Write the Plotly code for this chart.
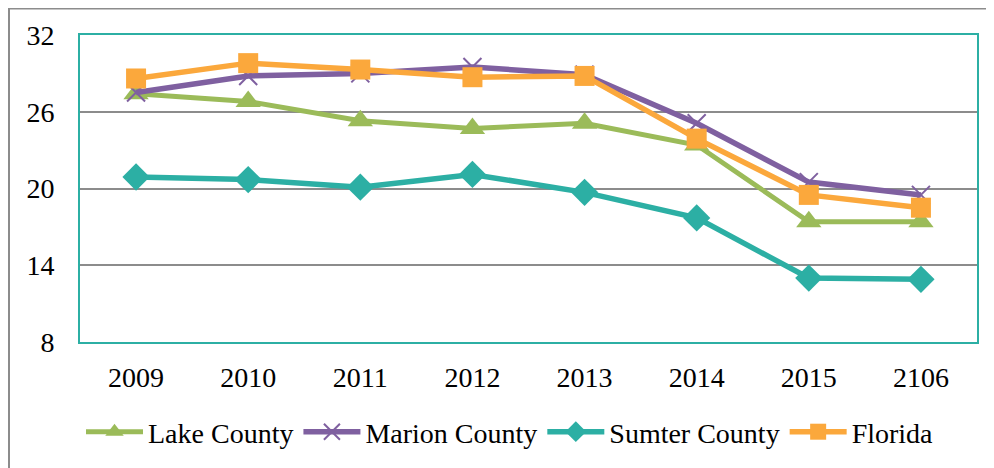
import plotly.graph_objects as go

years = ["2009", "2010", "2011", "2012", "2013", "2014", "2015", "2106"]
lake = [27.4, 26.8, 25.3, 24.7, 25.1, 23.4, 17.4, 17.4]
marion = [27.5, 28.8, 29.0, 29.5, 28.9, 25.1, 20.5, 19.5]
sumter = [20.9, 20.7, 20.1, 21.1, 19.7, 17.7, 13.0, 12.9]
florida = [28.6, 29.8, 29.3, 28.7, 28.8, 23.9, 19.5, 18.5]
y_ticks = [8, 14, 20, 26, 32]

FONT = "Liberation Serif"
FS = 28

# page is rendered with an 8px body margin; figure coords = page coords - 8
L, T, R, B = 72, 27, 25, 134
PW, PH = 994 - L - R, 468 - T - B

fig = go.Figure()
fig.add_trace(go.Scatter(x=years, y=lake, name="Lake County", mode="lines+markers",
                         line=dict(color="#9BBB59", width=5),
                         marker=dict(symbol="triangle-up", size=22, color="#9BBB59")))
fig.add_trace(go.Scatter(x=years, y=marion, name="Marion County", mode="lines+markers",
                         line=dict(color="#7F60A0", width=5.5),
                         marker=dict(symbol="x-thin", size=18, color="#7F60A0",
                                     line=dict(color="#7F60A0", width=2))))
fig.add_trace(go.Scatter(x=years, y=sumter, name="Sumter County", mode="lines+markers",
                         line=dict(color="#2CAFA4", width=5.5),
                         marker=dict(symbol="diamond", size=21, color="#2CAFA4")))
fig.add_trace(go.Scatter(x=years, y=florida, name="Florida", mode="lines+markers",
                         line=dict(color="#FBA83C", width=5.5),
                         marker=dict(symbol="square", size=20, color="#FBA83C")))

fig.update_layout(
    width=994, height=468,
    margin=dict(l=L, r=R, t=T, b=B, autoexpand=False),
    paper_bgcolor="white", plot_bgcolor="white",
    font=dict(family=FONT, size=FS, color="black"),
    showlegend=True,
    legend=dict(orientation="h", x=(510 - 8 - L) / PW, xanchor="center",
                y=(PH - 424 + T) / PH, yanchor="middle", itemwidth=57,
                font=dict(family=FONT, size=FS), itemclick=False,
                traceorder="normal"),
    xaxis=dict(type="category", range=[-0.5, 7.5], showgrid=False,
               showline=True, linecolor="#2CAFA4", linewidth=2, mirror=True,
               ticks="outside", ticklen=9, tickcolor="rgba(0,0,0,0)",
               tickfont=dict(family=FONT, size=FS), automargin=False),
    yaxis=dict(range=[8, 32], tickvals=y_ticks, showgrid=True,
               gridcolor="#8C8C8C", gridwidth=2,
               showline=True, linecolor="#2CAFA4", linewidth=2, mirror=True,
               ticks="outside", ticklen=18, tickcolor="rgba(0,0,0,0)",
               tickfont=dict(family=FONT, size=FS), zeroline=False, automargin=False),
    shapes=[dict(type="rect", xref="paper", yref="paper",
                 x0=(1 - L) / PW, x1=1.1, y0=-0.6, y1=(PH + T - 0.5) / PH,
                 line=dict(color="#8C8C8C", width=2), layer="below")],
)

fig.write_html("out.html")
